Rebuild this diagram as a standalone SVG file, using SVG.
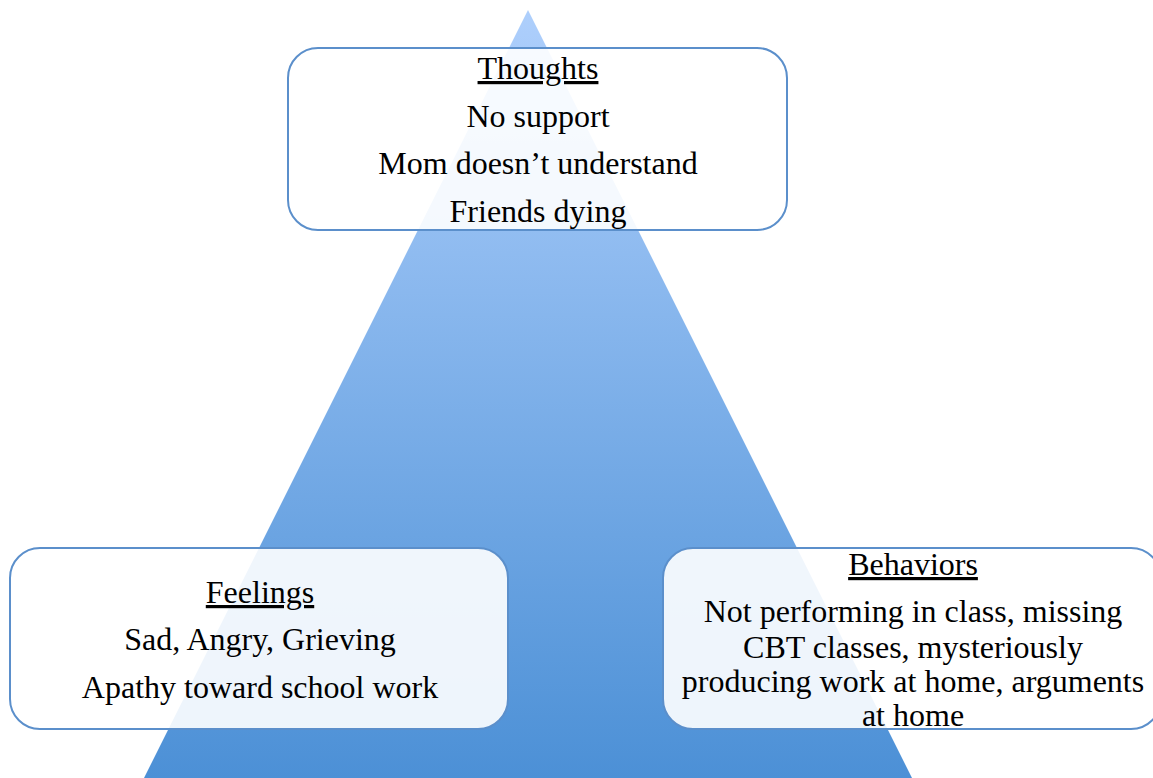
<svg xmlns="http://www.w3.org/2000/svg" width="1153" height="778" viewBox="0 0 1153 778">
  <defs>
    <linearGradient id="pyramidFill" x1="0" y1="10" x2="0" y2="778" gradientUnits="userSpaceOnUse">
      <stop offset="0" stop-color="#aecffc"/>
      <stop offset="1" stop-color="#4c90d6"/>
    </linearGradient>
    <style>
      .box { fill: #ffffff; fill-opacity: 0.9; stroke: #5b8fcb; stroke-width: 2; }
      .t { font-family: "Liberation Serif", "Times New Roman", serif; font-size: 32px; fill: #000000; text-anchor: middle; }
      .head { text-decoration: underline; }
    </style>
  </defs>
  <rect width="1153" height="778" fill="#ffffff"/>
  <!-- background pyramid -->
  <polygon points="528,10 144,778 912,778" fill="url(#pyramidFill)"/>

  <g id="thoughts">
    <rect class="box" x="288" y="48" width="499" height="182" rx="30" ry="30"/>
    <text class="t head" x="538" y="79">Thoughts</text>
    <text class="t" x="538" y="127">No support</text>
    <text class="t" x="538" y="174">Mom doesn’t understand</text>
    <text class="t" x="538" y="222">Friends dying</text>
  </g>

  <g id="feelings">
    <rect class="box" x="10" y="548" width="498" height="181" rx="30" ry="30"/>
    <text class="t head" x="260" y="603">Feelings</text>
    <text class="t" x="260" y="650">Sad, Angry, Grieving</text>
    <text class="t" x="260" y="698">Apathy toward school work</text>
  </g>

  <g id="behaviors">
    <rect class="box" x="663" y="548" width="498" height="181" rx="30" ry="30"/>
    <text class="t head" x="913" y="575">Behaviors</text>
    <text class="t" x="913" y="622">Not performing in class, missing</text>
    <text class="t" x="913" y="658">CBT classes, mysteriously</text>
    <text class="t" x="913" y="692">producing work at home, arguments</text>
    <text class="t" x="913" y="726">at home</text>
  </g>

  <g id="connectors"></g>
</svg>
